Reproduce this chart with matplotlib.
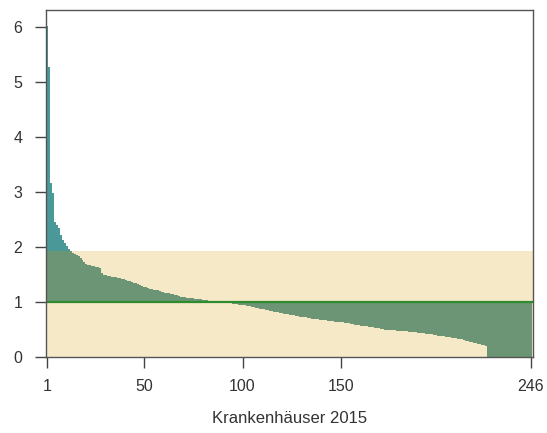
import numpy as np
import matplotlib
matplotlib.use('Agg')
import matplotlib.pyplot as plt

# Ratio per hospital, sorted descending
ratio = [
    6.02, 5.27, 3.16, 2.98, 2.45, 2.40, 2.35, 2.22, 2.13, 2.08,
    2.01, 1.96, 1.93, 1.90, 1.88, 1.86, 1.83, 1.80, 1.76, 1.73,
    1.70, 1.68, 1.67, 1.66, 1.65, 1.64, 1.63, 1.62, 1.52, 1.50,
    1.49, 1.48, 1.47, 1.46, 1.45, 1.45, 1.44, 1.44, 1.42, 1.41,
    1.40, 1.39, 1.38, 1.36, 1.35, 1.34, 1.32, 1.31, 1.30, 1.28,
    1.27, 1.25, 1.24, 1.23, 1.22, 1.21, 1.21, 1.20, 1.19, 1.18,
    1.17, 1.16, 1.16, 1.15, 1.14, 1.13, 1.12, 1.11, 1.10, 1.10,
    1.09, 1.08, 1.08, 1.07, 1.07, 1.06, 1.06, 1.05, 1.05, 1.04,
    1.04, 1.03, 1.02, 1.02, 1.01, 1.01, 1.01, 1.00, 1.00, 1.00,
    0.99, 0.99, 0.98, 0.98, 0.97, 0.96, 0.96, 0.95, 0.95, 0.94,
    0.94, 0.93, 0.93, 0.92, 0.91, 0.91, 0.90, 0.89, 0.88, 0.87,
    0.87, 0.86, 0.85, 0.84, 0.83, 0.82, 0.82, 0.81, 0.80, 0.80,
    0.79, 0.78, 0.78, 0.77, 0.77, 0.76, 0.75, 0.74, 0.73, 0.73,
    0.72, 0.72, 0.71, 0.71, 0.70, 0.70, 0.69, 0.69, 0.68, 0.68,
    0.67, 0.67, 0.66, 0.66, 0.65, 0.65, 0.64, 0.64, 0.64, 0.63,
    0.63, 0.62, 0.62, 0.61, 0.60, 0.60, 0.59, 0.58, 0.58, 0.57,
    0.57, 0.56, 0.56, 0.55, 0.54, 0.54, 0.53, 0.52, 0.52, 0.51,
    0.51, 0.50, 0.50, 0.50, 0.49, 0.49, 0.49, 0.48, 0.48, 0.48,
    0.47, 0.47, 0.47, 0.46, 0.46, 0.45, 0.45, 0.45, 0.44, 0.44,
    0.43, 0.43, 0.42, 0.42, 0.41, 0.41, 0.40, 0.40, 0.39, 0.39,
    0.38, 0.38, 0.37, 0.37, 0.36, 0.35, 0.35, 0.34, 0.33, 0.32,
    0.32, 0.31, 0.30, 0.29, 0.28, 0.27, 0.26, 0.25, 0.24, 0.23,
    0.22, 0.21, 0.20, 0.0, 0.0, 0.0, 0.0, 0.0, 0.0, 0.0,
    0.0, 0.0, 0.0, 0.0, 0.0, 0.0, 0.0, 0.0, 0.0, 0.0,
    0.0, 0.0, 0.0, 0.0, 0.0, 0.0,
]
reference = 1.0
band_top = 1.92
x_ticks = [1, 50, 100, 150, 246]
y_ticks = [0, 1, 2, 3, 4, 5, 6]

ratio = np.array(ratio)
n = len(ratio)
edges = np.arange(n + 1) + 0.5

teal = '#4a9898'
green = '#6b9574'
beige = '#f5e9c8'

plt.rcParams['font.family'] = ['Liberation Sans', 'DejaVu Sans']

fig = plt.figure(figsize=(5.47, 4.33), dpi=100)
ax = fig.add_axes([0.084, 0.1755, 0.8904, 0.8015])

# beige band behind everything
ax.axhspan(0, band_top, color=beige, lw=0, zorder=0)

# deviation from 1: green inside the band, teal above it
ax.stairs(np.minimum(ratio, band_top), edges, baseline=reference,
          fill=True, color=green, lw=0, zorder=1)
ax.stairs(np.maximum(ratio, band_top), edges, baseline=band_top,
          fill=True, color=teal, lw=0, zorder=1)

ax.axhline(reference, color='#2e8b2e', lw=1.6, zorder=2)

ax.set_xlim(0.5, 247)
ax.set_ylim(0, 6.31)
ax.set_xticks(x_ticks)
ax.set_yticks(y_ticks)
ax.set_xlabel('Krankenhäuser 2015', fontsize=12, color='#333333', labelpad=12)

for s in ax.spines.values():
    s.set_color('#555555')
    s.set_linewidth(1.0)
ax.tick_params(axis='both', direction='out', length=8, width=1.0,
               color='#444444', labelsize=11.5, labelcolor='#333333')
ax.tick_params(axis='y', pad=9)
ax.tick_params(axis='x', pad=8)

plt.savefig('out.png', dpi=100)
